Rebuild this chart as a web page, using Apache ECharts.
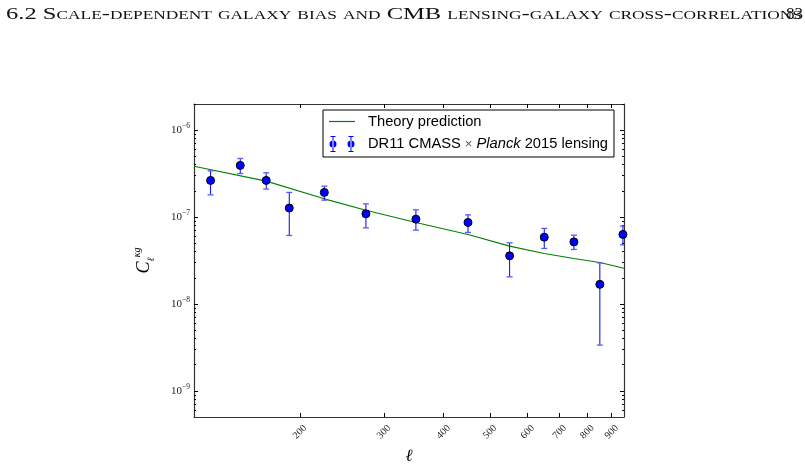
<!DOCTYPE html>
<html>
<head>
<meta charset="utf-8">
<script src="https://cdn.jsdelivr.net/npm/echarts@6/dist/echarts.min.js"></script>
<style>
html, body { margin: 0; padding: 0; background: #fff; }
#chart { width: 805px; height: 466px; }
</style>
</head>
<body>
<div id="chart"></div>
<script>
// multipole bin centres and measured C_l^{kappa g} with error bar ends
const ells = [130, 150, 170, 190, 225, 275, 350, 450, 550, 650, 750, 850, 950]
const clkg = [2.64e-7, 3.93e-7, 2.64e-7, 1.27e-7, 1.92e-7, 1.09e-7, 9.46e-8, 8.67e-8, 3.58e-8, 5.87e-8, 5.18e-8, 1.68e-8, 6.31e-8]
const clkgLow = [1.80e-7, 3.17e-7, 2.10e-7, 6.14e-8, 1.565e-7, 7.51e-8, 7.07e-8, 6.65e-8, 2.05e-8, 4.35e-8, 4.24e-8, 3.36e-9, 4.79e-8]
const clkgHigh = [3.40e-7, 4.72e-7, 3.23e-7, 1.92e-7, 2.27e-7, 1.418e-7, 1.21e-7, 1.06e-7, 5.05e-8, 7.39e-8, 6.19e-8, 2.97e-8, 7.86e-8]

// theory curve
const theoryEll = [120, 170, 225, 275, 350, 450, 550, 650, 750, 850, 955]
const theoryCl = [3.85e-7, 2.59e-7, 1.62e-7, 1.20e-7, 8.67e-8, 6.31e-8, 4.63e-8, 3.81e-8, 3.34e-8, 3.00e-8, 2.58e-8]

// axes
const xRange = [120, 955]
const yRange = [5e-10, 2e-6]
const xTicks = [200, 300, 400, 500, 600, 700, 800, 900]
const yTicks = [1e-9, 1e-8, 1e-7, 1e-6]
const yMinorTicks = [
    6e-10, 7e-10, 8e-10, 9e-10,
    2e-9, 3e-9, 4e-9, 5e-9, 6e-9, 7e-9, 8e-9, 9e-9,
    2e-8, 3e-8, 4e-8, 5e-8, 6e-8, 7e-8, 8e-8, 9e-8,
    2e-7, 3e-7, 4e-7, 5e-7, 6e-7, 7e-7, 8e-7, 9e-7,
    2e-6
]

const theoryName = 'Theory prediction'
const dataName = 'DR11 CMASS × Planck 2015 lensing'
const headerText = '6.2 Scale-dependent galaxy bias and CMB lensing-galaxy cross-correlations'
const pageNumber = '83'

const lg = Math.log10
const serif = 'Liberation Serif, DejaVu Serif, serif'
const sans = 'Liberation Sans, Arial, sans-serif'
const frame = { color: '#333', width: 1.2 }

// running header is set in small caps, stretched to the page width like the LaTeX one
const headerFont = 'small-caps 17px "Liberation Serif"'
const measureCtx = document.createElement('canvas').getContext('2d')
measureCtx.font = headerFont
const headerScale = 796 / measureCtx.measureText(headerText).width

function xAxisOf(pos, withLabels) {
    return {
        type: 'value',
        position: pos,
        min: lg(xRange[0]),
        max: lg(xRange[1]),
        axisLine: { show: true, onZero: false, lineStyle: frame },
        axisTick: { show: true, inside: true, length: 4, customValues: xTicks.map(lg), lineStyle: { color: '#000' } },
        axisLabel: {
            show: withLabels,
            customValues: xTicks.map(lg),
            formatter: v => String(Math.round(Math.pow(10, v))),
            rotate: 45,
            align: 'center',
            verticalAlign: 'middle',
            margin: 15,
            fontFamily: serif,
            fontSize: 10,
            color: '#222'
        },
        splitLine: { show: false }
    }
}

function yAxisOf(pos, minor, withLabels) {
    return {
        type: 'value',
        position: pos,
        min: lg(yRange[0]),
        max: lg(yRange[1]),
        axisLine: { show: !minor, onZero: false, lineStyle: frame },
        axisTick: {
            show: true, inside: true, length: minor ? 2 : 4,
            customValues: (minor ? yMinorTicks : yTicks).map(lg),
            lineStyle: { color: '#000' }
        },
        axisLabel: {
            show: withLabels,
            customValues: yTicks.map(lg),
            formatter: v => '{b|10}{e|−' + Math.round(-v) + '}',
            margin: 4,
            rich: {
                b: { fontFamily: serif, fontSize: 11, color: '#222', lineHeight: 16 },
                e: { fontFamily: serif, fontSize: 7.5, color: '#222', verticalAlign: 'top' }
            }
        },
        splitLine: { show: false }
    }
}

const xBottom = xAxisOf('bottom', true)
xBottom.name = 'ℓ'
xBottom.nameLocation = 'middle'
xBottom.nameGap = 28
xBottom.nameTextStyle = { fontFamily: serif, fontStyle: 'italic', fontSize: 17, color: '#000' }

const yLeft = yAxisOf('left', false, true)
yLeft.name = '{c|C}{s|ℓ}{p|κg}'
yLeft.nameLocation = 'middle'
yLeft.nameGap = 38
yLeft.nameTextStyle = {
    rich: {
        c: { fontFamily: serif, fontStyle: 'italic', fontSize: 18, color: '#000', lineHeight: 24 },
        s: { fontFamily: serif, fontStyle: 'italic', fontSize: 10, color: '#000', verticalAlign: 'bottom' },
        p: { fontFamily: serif, fontStyle: 'italic', fontSize: 10, color: '#000', verticalAlign: 'top' }
    }
}

const errorbarIcon = 'path://M3.5,0h1v16h-1z M1.5,0h5v1h-5z M1.5,15h5v1h-5z M0.5,8a3.5,3.5 0 1,0 7,0a3.5,3.5 0 1,0 -7,0z'
    + ' M21.5,0h1v16h-1z M19.5,0h5v1h-5z M19.5,15h5v1h-5z M18.5,8a3.5,3.5 0 1,0 7,0a3.5,3.5 0 1,0 -7,0z'

let myChart = echarts.init(document.getElementById('chart'))
let option = {
    animation: false,
    graphic: [
        {
            type: 'text', x: 6, y: 15, scaleX: headerScale,
            style: { text: headerText, font: headerFont, fill: '#111', verticalAlign: 'middle' }
        },
        {
            type: 'text', x: 803, y: 15,
            style: { text: pageNumber, font: '17px "Liberation Serif"', fill: '#111', align: 'right', verticalAlign: 'middle' }
        }
    ],
    grid: { left: 194, right: 181, top: 104, bottom: 49, containLabel: false, outerBoundsMode: 'none' },
    legend: {
        orient: 'vertical',
        left: 323,
        top: 110,
        itemWidth: 26,
        itemHeight: 16,
        itemGap: 7,
        symbolKeepAspect: true,
        padding: [4, 6, 5, 6],
        borderColor: '#000',
        borderWidth: 1,
        borderRadius: 0,
        backgroundColor: '#fff',
        data: [
            { name: theoryName, icon: 'path://M0,0h26v1.2h-26z', itemStyle: { color: '#008000', borderWidth: 0 } },
            { name: dataName, icon: errorbarIcon, itemStyle: { borderWidth: 0, color: '#0000ff' } }
        ],
        formatter: name => name === dataName ? 'DR11 CMASS {x|×} {i|Planck} 2015 lensing' : name,
        textStyle: {
            fontFamily: sans, fontSize: 14.7, color: '#000', padding: [0, 0, 0, 8],
            rich: {
                i: { fontFamily: sans, fontStyle: 'italic', fontSize: 14.7, color: '#000' },
                x: { fontFamily: sans, fontSize: 13, color: '#555' }
            }
        }
    },
    xAxis: [xBottom, xAxisOf('top', false)],
    yAxis: [yLeft, yAxisOf('left', true, false), yAxisOf('right', false, false), yAxisOf('right', true, false)],
    series: [
        {
            name: theoryName,
            type: 'line',
            data: theoryEll.map((l, i) => [lg(l), lg(theoryCl[i])]),
            symbol: 'none',
            lineStyle: { color: '#008000', width: 1.1 },
            itemStyle: { color: '#008000' },
            z: 2
        },
        {
            name: 'errors',
            type: 'custom',
            clip: true,
            data: ells.map((l, i) => [lg(l), lg(clkgLow[i]), lg(clkgHigh[i])]),
            encode: { x: 0, y: [1, 2] },
            renderItem(params, api) {
                const x = api.value(0)
                const lo = api.coord([x, api.value(1)])
                const hi = api.coord([x, api.value(2)])
                const w = 3
                return {
                    type: 'group',
                    children: [
                        { type: 'line', shape: { x1: lo[0], y1: lo[1], x2: hi[0], y2: hi[1] }, style: { stroke: '#0000ff', lineWidth: 1 } },
                        { type: 'line', shape: { x1: lo[0] - w, y1: lo[1], x2: lo[0] + w, y2: lo[1] }, style: { stroke: '#5a5aff', lineWidth: 1.3 } },
                        { type: 'line', shape: { x1: hi[0] - w, y1: hi[1], x2: hi[0] + w, y2: hi[1] }, style: { stroke: '#5a5aff', lineWidth: 1.3 } }
                    ]
                }
            },
            z: 3
        },
        {
            name: dataName,
            type: 'scatter',
            data: ells.map((l, i) => [lg(l), lg(clkg[i])]),
            symbol: 'circle',
            symbolSize: 8,
            itemStyle: { color: '#0000ff', borderColor: '#000', borderWidth: 1, opacity: 1 },
            z: 4
        }
    ]
}
myChart.setOption(option)
window.addEventListener('resize', function () {
    myChart.resize()
})
</script>
</body>
</html>
